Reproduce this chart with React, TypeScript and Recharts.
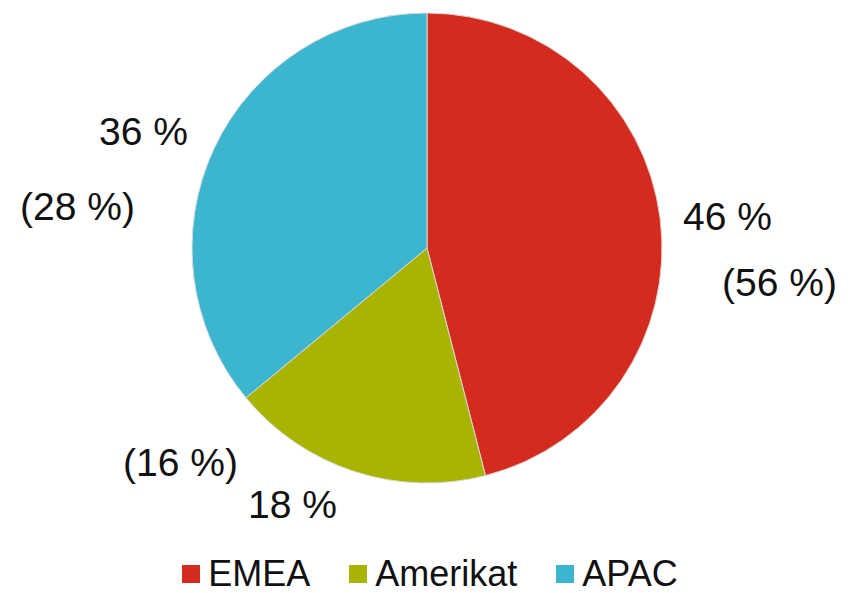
import { Cell, Legend, Pie, PieChart } from "recharts";

const regions = ["EMEA", "Amerikat", "APAC"];
const shareNow = [46, 18, 36];
const sharePrev = [56, 16, 28];
const colors = ["#D52B1E", "#A8B400", "#3BB6CE"];

// label offsets from pie centre: [now line, prev line]
const labelOffsets: [number, number][][] = [
  [[256, -18], [295, 48]],
  [[-179, 270], [-304, 228]],
  [[-328, -103], [-407, -28]],
];

const data = regions.map((name, i) => ({
  name,
  value: shareNow[i],
  prev: sharePrev[i],
}));

const font = "'Liberation Sans', Arial, sans-serif";

function renderLabel(props: any) {
  const { cx, cy, index } = props;
  const [now, prev] = labelOffsets[index];
  return (
    <g key={`lbl-${index}`}>
      <text x={cx + now[0]} y={cy + now[1]} fill="#111" fontSize={39} fontFamily={font} textAnchor="start">
        {`${shareNow[index]} %`}
      </text>
      <text x={cx + prev[0]} y={cy + prev[1]} fill="#111" fontSize={39} fontFamily={font} textAnchor="start">
        {`(${sharePrev[index]} %)`}
      </text>
    </g>
  );
}

function LegendContent() {
  return (
    <div style={{ display: "flex", justifyContent: "center", alignItems: "center", fontFamily: font, fontSize: 36, color: "#111", lineHeight: "36px", height: 36 }}>
      {regions.map((r, i) => (
        <div key={r} style={{ display: "flex", alignItems: "center", marginLeft: i === 0 ? 0 : 39 }}>
          <span style={{ width: 18, height: 18, background: colors[i], display: "inline-block", marginRight: 8 }} />
          <span>{r}</span>
        </div>
      ))}
    </div>
  );
}

export default function App() {
  return (
    <div style={{ position: "absolute", left: 0, top: 0, width: 860, height: 593, background: "#fff" }}>
      <PieChart width={860} height={593} margin={{ top: 0, right: 0, bottom: 0, left: 0 }}>
        <Pie
          data={data}
          dataKey="value"
          nameKey="name"
          cx={427}
          cy={248}
          outerRadius={235}
          startAngle={90}
          endAngle={-270}
          stroke="#d8d8d8"
          strokeWidth={1}
          label={renderLabel}
          labelLine={false}
          isAnimationActive={false}
        >
          {data.map((d, i) => (
            <Cell key={d.name} fill={colors[i]} />
          ))}
        </Pie>
        <Legend content={<LegendContent />} wrapperStyle={{ top: 556, left: 0, width: 860, height: 36 }} />
      </PieChart>
    </div>
  );
}
